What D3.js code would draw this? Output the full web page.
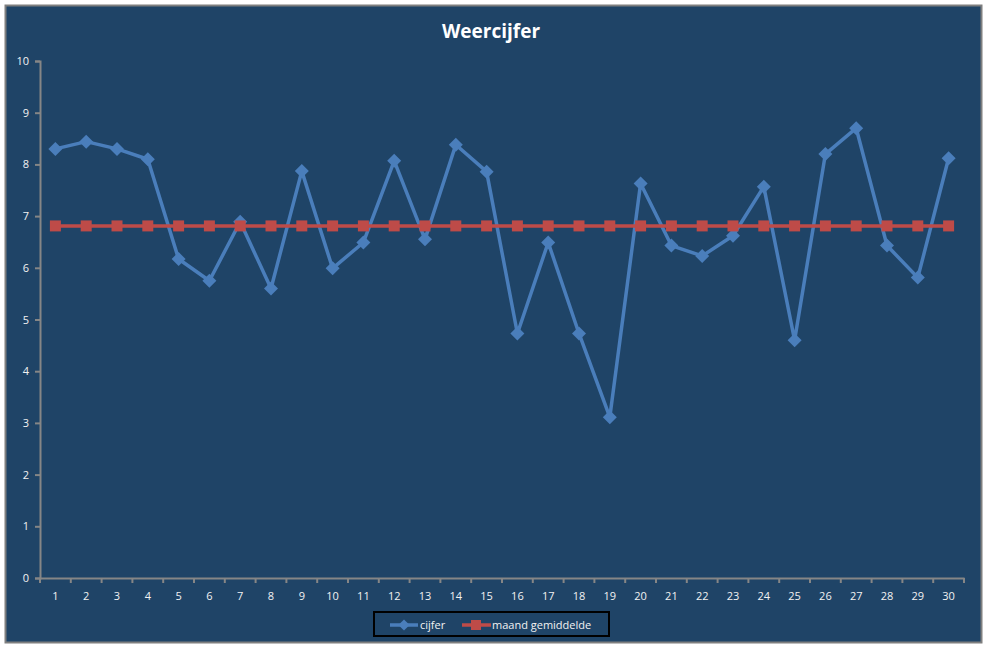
<!DOCTYPE html>
<html><head><meta charset="utf-8">
<script src="https://cdn.jsdelivr.net/npm/d3@7"></script>
<style>html,body{margin:0;padding:0;background:#fff;}svg{display:block;}</style>
</head><body>
<script>
const days = d3.range(1, 31).map(String);
const cijfer = [8.30,8.44,8.30,8.10,6.17,5.75,6.89,5.60,7.87,5.99,
                6.49,8.07,6.55,8.38,7.86,4.73,6.49,4.73,3.11,7.63,
                6.43,6.23,6.62,7.57,4.60,8.20,8.70,6.43,5.81,8.12];
const gemiddelde = [6.81,6.81,6.81,6.81,6.81,6.81,6.81,6.81,6.81,6.81,
                    6.81,6.81,6.81,6.81,6.81,6.81,6.81,6.81,6.81,6.81,
                    6.81,6.81,6.81,6.81,6.81,6.81,6.81,6.81,6.81,6.81];
const yTicks = [0,1,2,3,4,5,6,7,8,9,10];
const title = "Weercijfer";
const seriesNames = ["cijfer", "maand gemiddelde"];

const W = 987, H = 648;
const font = "'Open Sans', 'Noto Sans', sans-serif";
const bg = "#1F4467", axisCol = "#868686", txt = "#F2F2F2";
const blue = "#4A7EBB", red = "#BE4B48";

const svg = d3.select("body").append("svg").attr("width", W).attr("height", H);
svg.append("rect").attr("x", 5.5).attr("y", 5.5).attr("width", 976).attr("height", 637)
  .attr("fill", bg).attr("stroke", "#7F7F7F").attr("stroke-width", 2);

const m = {l: 40, r: 964, t: 61, b: 578};
const x = d3.scaleBand().domain(days).range([m.l, m.r]);
const y = d3.scaleLinear().domain([0, 10]).range([m.b, m.t]);

svg.append("text").attr("x", 491).attr("y", 38).attr("text-anchor", "middle")
  .attr("fill", "#fff").attr("font-family", font).attr("font-weight", "bold")
  .attr("font-size", 19).text(title);

const yAx = svg.append("g").attr("transform", `translate(${m.l},0)`)
  .call(d3.axisLeft(y).tickValues(yTicks).tickSize(5).tickPadding(6).tickFormat(d3.format("d")));
const xAx = svg.append("g").attr("transform", `translate(0,${m.b})`)
  .call(d3.axisBottom(x).tickSize(0).tickPadding(14));
xAx.selectAll(".bnd").data(d3.range(0, 31)).enter().append("line")
  .attr("x1", i => m.l + i * x.step()).attr("x2", i => m.l + i * x.step())
  .attr("y1", 0).attr("y2", 5).attr("stroke", axisCol).attr("stroke-width", 2);
[yAx, xAx].forEach(g => {
  g.select(".domain").attr("stroke", axisCol).attr("stroke-width", 2);
  g.selectAll(".tick line").attr("stroke", axisCol).attr("stroke-width", 2);
  g.selectAll("text").attr("fill", txt).attr("font-family", font).attr("font-size", 11);
});

const cx = (d, i) => x(days[i]) + x.bandwidth() / 2;
const line = d3.line().x((d, i) => cx(d, i)).y(d => y(d));
const diamond = "M0,-7L7,0L0,7L-7,0Z";

svg.append("path").datum(cijfer).attr("d", line).attr("fill", "none")
  .attr("stroke", blue).attr("stroke-width", 3.5).attr("stroke-linejoin", "round");
svg.append("g").selectAll("path").data(cijfer).enter().append("path")
  .attr("d", diamond).attr("transform", (d, i) => `translate(${cx(d, i)},${y(d)})`)
  .attr("fill", blue);

svg.append("path").datum(gemiddelde).attr("d", line).attr("fill", "none")
  .attr("stroke", red).attr("stroke-width", 3.5);
svg.append("g").selectAll("rect").data(gemiddelde).enter().append("rect")
  .attr("x", (d, i) => cx(d, i) - 5.5).attr("y", d => y(d) - 5.5)
  .attr("width", 11).attr("height", 11).attr("fill", red);

// legend
const lg = svg.append("g");
lg.append("rect").attr("x", 374).attr("y", 612).attr("width", 235).attr("height", 24)
  .attr("fill", "none").attr("stroke", "#000").attr("stroke-width", 2);
const ly = 625;
lg.append("line").attr("x1", 390).attr("x2", 418).attr("y1", ly).attr("y2", ly)
  .attr("stroke", blue).attr("stroke-width", 3.5);
lg.append("path").attr("d", diamond).attr("transform", `translate(404,${ly}) scale(0.8)`).attr("fill", blue);
lg.append("text").attr("x", 420).attr("y", ly + 4).attr("fill", txt).attr("font-family", font)
  .attr("font-size", 11).text(seriesNames[0]);
lg.append("line").attr("x1", 462).attr("x2", 491).attr("y1", ly).attr("y2", ly)
  .attr("stroke", red).attr("stroke-width", 3.5);
lg.append("rect").attr("x", 471).attr("y", ly - 5).attr("width", 10).attr("height", 10).attr("fill", red);
lg.append("text").attr("x", 492).attr("y", ly + 4).attr("fill", txt).attr("font-family", font)
  .attr("font-size", 11).text(seriesNames[1]);
</script>
</body></html>
